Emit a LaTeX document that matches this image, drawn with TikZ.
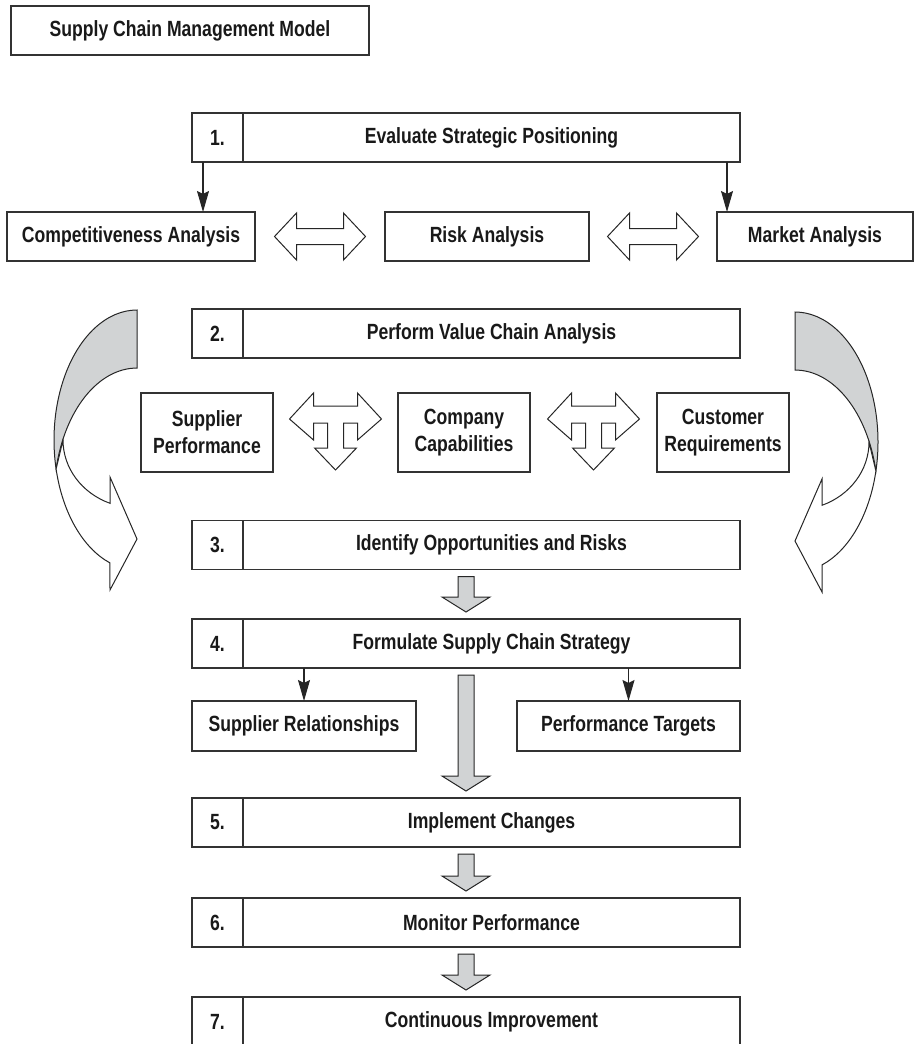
\documentclass[tikz,border=0pt]{standalone}
\usepackage{fontspec}
\newfontfamily\condfont{Liberation Sans}[FakeStretch=0.8]
\usetikzlibrary{positioning,calc,arrows.meta}
\definecolor{shade}{RGB}{209,211,212}
\tikzset{
  box/.style={draw=black!80, line width=1.1pt, minimum height=49pt, inner sep=0pt, outer sep=0pt,
    align=center, text=black!90, font=\condfont\bfseries\fontsize{22}{27}\selectfont},
  arr/.style={draw=black!85, line width=1.1pt, -{Stealth[length=21pt,width=12pt,inset=3pt]}},
  wblock/.style={draw=black!85, line width=1pt, fill=white},
  gblock/.style={draw=black!85, line width=1pt, fill=shade},
}
% white double arrow between two boxes of a row
\newcommand{\dblarrow}[2]{%
  \draw[wblock] let \p1=($(#1.east)!.5!(#2.west)$) in
    (\x1-45.5pt,\y1) -- (\x1-23.5pt,\y1+23.5pt) -- (\x1-23.5pt,\y1+8pt) -- (\x1+23.5pt,\y1+8pt)
    -- (\x1+23.5pt,\y1+23.5pt) -- (\x1+45.5pt,\y1) -- (\x1+23.5pt,\y1-23.5pt) -- (\x1+23.5pt,\y1-8pt)
    -- (\x1-23.5pt,\y1-8pt) -- (\x1-23.5pt,\y1-23.5pt) -- cycle;}
% white T arrow (left, right and down)
\newcommand{\tarrow}[2]{%
  \draw[wblock] let \p1=($(#1.north east)!.5!(#2.north west)$) in
    (\x1-46pt,\y1-26pt) -- (\x1-22pt,\y1) -- (\x1-22pt,\y1-13pt) -- (\x1+22pt,\y1-13pt)
    -- (\x1+22pt,\y1) -- (\x1+46pt,\y1-26pt) -- (\x1+22pt,\y1-47pt) -- (\x1+22pt,\y1-30pt)
    -- (\x1+8pt,\y1-30pt) -- (\x1+8pt,\y1-55pt) -- (\x1+21pt,\y1-55pt) -- (\x1,\y1-77pt)
    -- (\x1-21pt,\y1-55pt) -- (\x1-8pt,\y1-55pt) -- (\x1-8pt,\y1-30pt) -- (\x1-22pt,\y1-30pt)
    -- (\x1-22pt,\y1-47pt) -- cycle;}
% grey block arrow from one step to the next
\newcommand{\grayarrow}[2]{%
  \draw[gblock] let \p1=([yshift=-7pt]#1.south west), \p2=([yshift=7pt]#2.north west) in
    (\x1+266pt,\y1) -- (\x1+282pt,\y1) -- (\x1+282pt,\y2+15pt) -- (\x1+298pt,\y2+15pt)
    -- (\x1+274pt,\y2) -- (\x1+250pt,\y2+15pt) -- (\x1+266pt,\y2+15pt) -- cycle;}
\begin{document}
\begin{tikzpicture}[x=1pt, y=-1pt]
\useasboundingbox (0,0) rectangle (920,1044);

\node[box, minimum width=358pt] (title) at (190,30.5) {Supply Chain Management Model};

% step 1
\node[box, minimum width=51pt] (n1) at (217.5,137.5) {1.};
\node[box, minimum width=497pt, right=0pt of n1] (s1) {Evaluate Strategic Positioning};
\node[box, minimum width=248pt] (comp) at (131,236.5) {Competitiveness Analysis};
\node[box, minimum width=204pt] (risk) at (487,236.5) {Risk Analysis};
\node[box, minimum width=196pt] (market) at (815,236.5) {Market Analysis};
\coordinate (a1) at ([xshift=11pt]n1.south west);
\coordinate (a2) at ([xshift=-13pt]s1.south east);
\draw[arr] (a1) -- (a1 |- comp.north);
\draw[arr] (a2) -- (a2 |- market.north);
\dblarrow{comp}{risk}
\dblarrow{risk}{market}

% step 2
\node[box, minimum width=51pt] (n2) at (217.5,333.5) {2.};
\node[box, minimum width=497pt, right=0pt of n2] (s2) {Perform Value Chain Analysis};
\node[box, minimum width=132pt, minimum height=79pt] (supp) at (207,432.5) {Supplier\\Performance};
\node[box, minimum width=132pt, minimum height=79pt] (capab) at (464,432.5) {Company\\Capabilities};
\node[box, minimum width=132pt, minimum height=79pt] (cust) at (723,432.5) {Customer\\Requirements};
\tarrow{supp}{capab}
\tarrow{capab}{cust}

% loop arrows on both sides
\draw[gblock] (137,310) arc[start angle=270, end angle=167.1, x radius=83, y radius=130]
  arc[start angle=192.9, end angle=270, x radius=83, y radius=130] -- cycle;
\draw[wblock] (56.1,469) arc[start angle=167.1, end angle=109, x radius=83, y radius=130]
  -- (110,590) -- (137,539) -- (110,477) -- (110,503.3)
  arc[start angle=111.4, end angle=180, x radius=74, y radius=68] -- cycle;
\begin{scope}[shift={(932,2)}, xscale=-1]
\draw[gblock] (137,310) arc[start angle=270, end angle=167.1, x radius=83, y radius=130]
  arc[start angle=192.9, end angle=270, x radius=83, y radius=130] -- cycle;
\draw[wblock] (56.1,469) arc[start angle=167.1, end angle=109, x radius=83, y radius=130]
  -- (110,590) -- (137,539) -- (110,477) -- (110,503.3)
  arc[start angle=111.4, end angle=180, x radius=74, y radius=68] -- cycle;
\end{scope}

% steps 3 and 4
\node[box, minimum width=51pt] (n3) at (217.5,545) {3.};
\node[box, minimum width=497pt, right=0pt of n3] (s3) {Identify Opportunities and Risks};
\node[box, minimum width=51pt] (n4) at (217.5,643.5) {4.};
\node[box, minimum width=497pt, right=0pt of n4] (s4) {Formulate Supply Chain Strategy};
\grayarrow{n3}{n4}
\node[box, minimum width=224pt, minimum height=50pt] (suprel) at (304,726) {Supplier Relationships};
\node[box, minimum width=223pt, minimum height=50pt] (perf) at (628.5,726) {Performance Targets};
\draw[arr] (suprel.north |- s4.south) -- (suprel.north);
\draw[arr] (perf.north |- s4.south) -- (perf.north);

% steps 5 to 7
\node[box, minimum width=51pt] (n5) at (217.5,822.5) {5.};
\node[box, minimum width=497pt, right=0pt of n5] (s5) {Implement Changes};
\node[box, minimum width=51pt] (n6) at (217.5,922.5) {6.};
\node[box, minimum width=497pt, right=0pt of n6] (s6) {Monitor Performance};
\node[box, minimum width=51pt] (n7) at (217.5,1021.5) {7.};
\node[box, minimum width=497pt, right=0pt of n7] (s7) {Continuous Improvement};
\grayarrow{n4}{n5}
\grayarrow{n5}{n6}
\grayarrow{n6}{n7}
\end{tikzpicture}
\end{document}
